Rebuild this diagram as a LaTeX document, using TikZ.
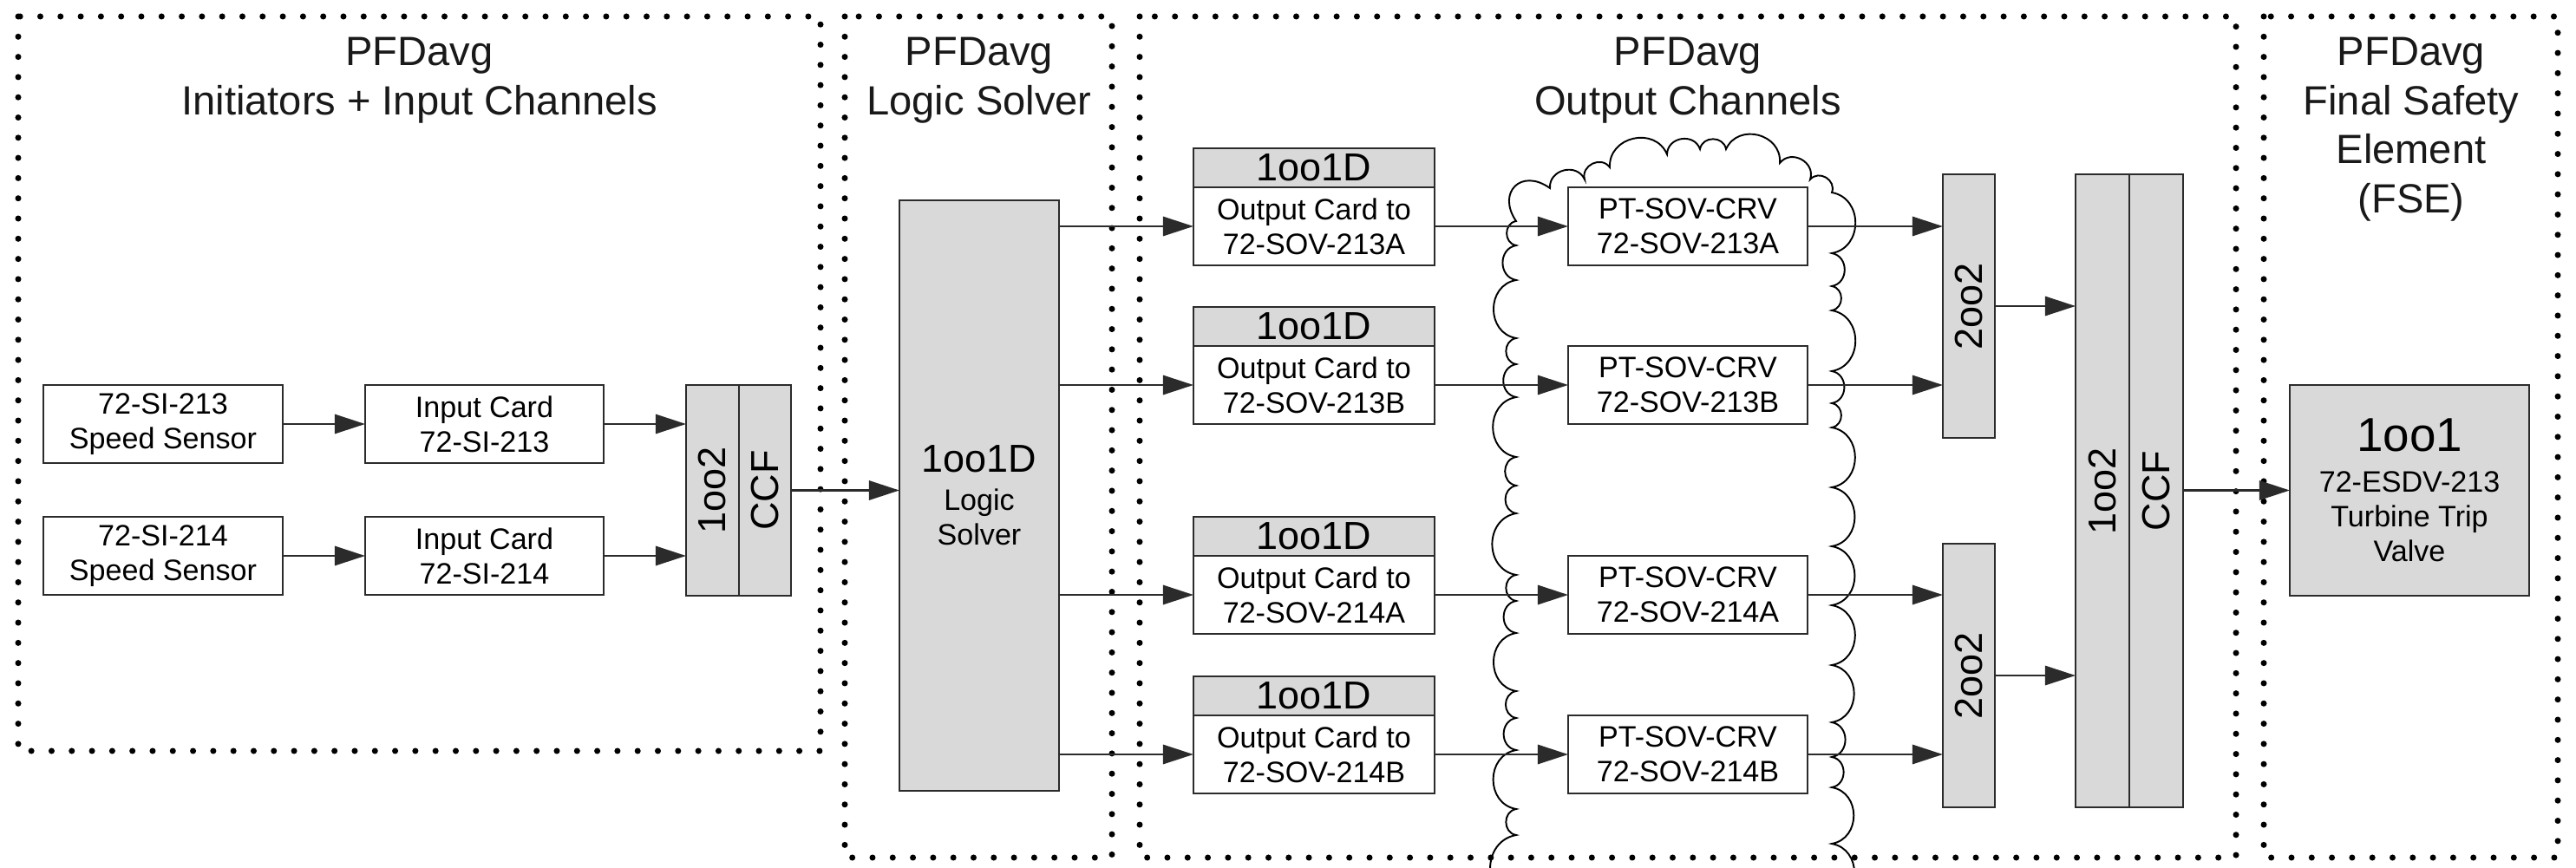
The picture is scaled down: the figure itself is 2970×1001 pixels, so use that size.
\documentclass[tikz,border=0pt]{standalone}
\usepackage{fontspec}
\setmainfont{Liberation Sans}
\usetikzlibrary{arrows.meta}
\definecolor{linec}{HTML}{2B2B2B}
\definecolor{boxgray}{HTML}{D9D9D9}
\newcommand\myTitle{\fontsize{13.4pt}{16.2pt}\selectfont}
\newcommand\myBox{\fontsize{9.7pt}{11.4pt}\selectfont}
\newcommand\myHead{\fontsize{12.8pt}{14pt}\selectfont}
\newcommand\myHuge{\fontsize{15.6pt}{17pt}\selectfont}
\tikzset{
  box/.style={draw=linec, line width=0.75pt, inner sep=0pt, outer sep=0pt, align=center, font=\myBox, text=black},
  gbox/.style={box, fill=boxgray},
  wbox/.style={box, fill=white},
  title/.style={align=center, font=\myTitle, inner sep=0pt, anchor=north, text=black!90},
  arr/.style={draw=linec, line width=0.8pt, -{Triangle[length=10pt,width=6.3pt]}},
  dotf/.style={draw=black, line width=2pt, dash pattern=on 0pt off 6.63pt, line cap=round},
  sc/.style={bend left=80, looseness=1.35},
  cloudl/.style={draw=black, line width=0.55pt}
}
\begin{document}
\begin{tikzpicture}[x=0.1mm, y=-0.1mm]
\useasboundingbox (0,0) rectangle (2970,1001);
\fill[white] (0,0) rectangle (2970,1001);

% dotted frames
\draw[dotf] (21,19) rectangle (946,866);
\draw[dotf] (974,19) rectangle (1282,989);
\draw[dotf] (1314,19) rectangle (2578,989);
\draw[dotf] (2610,19) rectangle (2949,989);

% titles
\node[title] (t1) at (483.5,42) {PFDavg\\Initiators + Input Channels};
\node[title] (t2) at (1129,42) {PFDavg\\Logic Solver};
\node[title] (t3) at (1946,42) {PFDavg\\Output Channels};
\node[title] (t4) at (2780,42) {PFDavg\\Final Safety\\Element\\(FSE)};

% cloud
\begin{scope}
\clip (0,0) rectangle (2970,1001);
\draw[cloudl] (1748,1040) to[sc] (1748,963) to[sc] (1748,933) to[sc] (1748,865)
  to[sc] (1748,828) to[sc] (1748,797) to[sc] (1748,730) to[sc] (1748,693)
  to[sc] (1748,663) to[sc] (1748,592) to[sc] (1748,560) to[sc] (1748,527)
  to[sc] (1748,458) to[sc] (1748,420) to[sc] (1748,390) to[sc] (1748,323)
  to[sc] (1748,283) to[sc] (1748,255) to[sc, looseness=1.9] (1787,217)
  to[sc] (1827,207) to[sc] (1856,193) to[sc] (1922,178) to[sc] (1960,172)
  to[sc] (1990,172) to[sc] (2052,188) to[sc] (2087,207) to[sc] (2112,222)
  to[sc] (2112,292) to[sc] (2112,330) to[sc] (2112,358) to[sc] (2112,428)
  to[sc] (2112,465) to[sc] (2112,493) to[sc] (2112,562) to[sc] (2112,630)
  to[sc] (2112,698) to[sc] (2112,767) to[sc] (2112,833) to[sc] (2112,873)
  to[sc] (2112,908) to[sc] (2112,973) to[sc] (2112,1040);
\end{scope}

% initiators
\node[wbox, minimum width=27.6mm, minimum height=9mm] (s213) at (188,489) {72-SI-213\\Speed Sensor};
\node[wbox, minimum width=27.5mm, minimum height=9mm] (ic213) at (558.5,489) {Input Card\\72-SI-213};
\node[wbox, minimum width=27.6mm, minimum height=9mm] (s214) at (188,641) {72-SI-214\\Speed Sensor};
\node[wbox, minimum width=27.5mm, minimum height=9mm] (ic214) at (558.5,641) {Input Card\\72-SI-214};
\node[gbox, minimum width=6.1mm, minimum height=24.3mm, font=\myHead] (v1) at (821.5,565.5) {\rotatebox{90}{1oo2}};
\node[gbox, minimum width=6mm, minimum height=24.3mm, font=\myHead] (v2) at (882,565.5) {\rotatebox{90}{CCF}};

% logic solver
\node[gbox, minimum width=18.4mm, minimum height=68.1mm] (logic) at (1129,571.5) {{\myHead 1oo1D}\\[1pt]Logic\\Solver};

% output cards
\node[gbox, minimum width=27.8mm, minimum height=4.5mm, font=\myHead] (hA) at (1515,193.5) {1oo1D};
\node[wbox, minimum width=27.8mm, minimum height=9mm] (cA) at (1515,261) {Output Card to\\72-SOV-213A};
\node[gbox, minimum width=27.8mm, minimum height=4.5mm, font=\myHead] (hB) at (1515,376.5) {1oo1D};
\node[wbox, minimum width=27.8mm, minimum height=9mm] (cB) at (1515,444) {Output Card to\\72-SOV-213B};
\node[gbox, minimum width=27.8mm, minimum height=4.5mm, font=\myHead] (hC) at (1515,618.5) {1oo1D};
\node[wbox, minimum width=27.8mm, minimum height=9mm] (cC) at (1515,686) {Output Card to\\72-SOV-214A};
\node[gbox, minimum width=27.8mm, minimum height=4.5mm, font=\myHead] (hD) at (1515,802.5) {1oo1D};
\node[wbox, minimum width=27.8mm, minimum height=9mm] (cD) at (1515,870) {Output Card to\\72-SOV-214B};

% PT-SOV-CRV
\node[wbox, minimum width=27.6mm, minimum height=9mm] (pA) at (1946,261) {PT-SOV-CRV\\72-SOV-213A};
\node[wbox, minimum width=27.6mm, minimum height=9mm] (pB) at (1946,444) {PT-SOV-CRV\\72-SOV-213B};
\node[wbox, minimum width=27.6mm, minimum height=9mm] (pC) at (1946,686) {PT-SOV-CRV\\72-SOV-214A};
\node[wbox, minimum width=27.6mm, minimum height=9mm] (pD) at (1946,870) {PT-SOV-CRV\\72-SOV-214B};

% voting
\node[gbox, minimum width=6mm, minimum height=30.4mm, font=\myHead] (tA) at (2270,353) {\rotatebox{90}{2oo2}};
\node[gbox, minimum width=6mm, minimum height=30.4mm, font=\myHead] (tB) at (2270,779) {\rotatebox{90}{2oo2}};
\node[gbox, minimum width=6.2mm, minimum height=73mm, font=\myHead] (bL) at (2424,566) {\rotatebox{90}{1oo2}};
\node[gbox, minimum width=6.2mm, minimum height=73mm, font=\myHead] (bR) at (2486,566) {\rotatebox{90}{CCF}};

% final element
\node[gbox, minimum width=27.6mm, minimum height=24.3mm] (fse) at (2778,565.5) {{\myHuge 1oo1}\\[2pt]72-ESDV-213\\Turbine Trip\\Valve};

% connectors
\draw[arr] (s213) -- (ic213);
\draw[arr] (s214) -- (ic214);
\draw[arr] (ic213.east) -- (ic213.east -| v1.west);
\draw[arr] (ic214.east) -- (ic214.east -| v1.west);
\draw[arr] (v2.east) -- (v2.east -| logic.west);
\draw[arr] (logic.east |- cA) -- (cA.west);
\draw[arr] (logic.east |- cB) -- (cB.west);
\draw[arr] (logic.east |- cC) -- (cC.west);
\draw[arr] (logic.east |- cD) -- (cD.west);
\draw[arr] (cA) -- (pA);
\draw[arr] (cB) -- (pB);
\draw[arr] (cC) -- (pC);
\draw[arr] (cD) -- (pD);
\draw[arr] (pA.east) -- (pA.east -| tA.west);
\draw[arr] (pB.east) -- (pB.east -| tA.west);
\draw[arr] (pC.east) -- (pC.east -| tB.west);
\draw[arr] (pD.east) -- (pD.east -| tB.west);
\draw[arr] (tA.east) -- (tA.east -| bL.west);
\draw[arr] (tB.east) -- (tB.east -| bL.west);
\draw[arr] (bR.east |- fse) -- (fse.west);
\end{tikzpicture}
\end{document}
